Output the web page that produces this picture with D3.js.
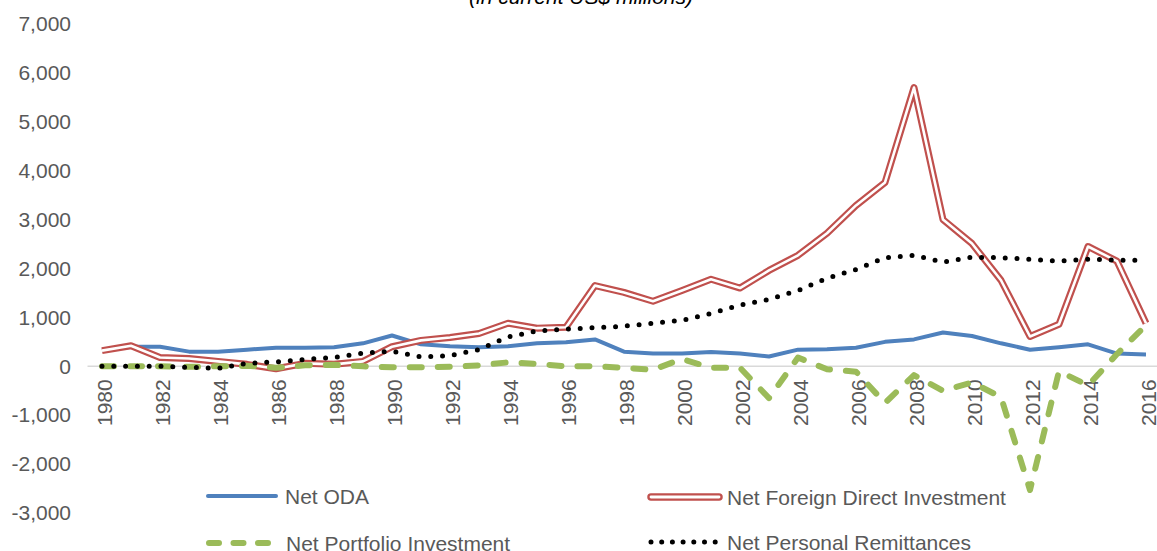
<!DOCTYPE html>
<html>
<head>
<meta charset="utf-8">
<script src="https://cdn.jsdelivr.net/npm/d3@7"></script>
<style>
  body { margin: 0; background: #fff; }
  svg { display: block; font-family: "Liberation Sans", Arial, sans-serif; }
</style>
</head>
<body>
<div id="chart"></div>
<script>
// values, US$ millions
const years = [1980, 1981, 1982, 1983, 1984, 1985, 1986, 1987, 1988, 1989,
  1990, 1991, 1992, 1993, 1994, 1995, 1996, 1997, 1998, 1999,
  2000, 2001, 2002, 2003, 2004, 2005, 2006, 2007, 2008, 2009,
  2010, 2011, 2012, 2013, 2014, 2015, 2016];
const netODA = [330, 400, 400, 300, 300, 340, 380, 380, 390, 470,
  630, 450, 410, 390, 410, 470, 490, 550, 300, 260,
  260, 290, 260, 200, 340, 350, 380, 500, 550, 690,
  620, 470, 340, 390, 450, 260, 240];
const netFDI = [320, 420, 180, 160, 100, 40, -50, 60, 40, 100,
  400, 530, 590, 670, 880, 780, 800, 1650, 1510, 1330,
  1550, 1780, 1600, 1960, 2270, 2720, 3290, 3760, 5700, 3000,
  2510, 1760, 610, 860, 2450, 2150, 880];
const netPortfolio = [0, 0, 0, -10, 0, 10, -30, 20, 30, 0,
  -20, -20, -10, 20, 80, 50, 0, 0, -30, -70,
  150, -30, -30, -650, 180, -60, -110, -750, -180, -500,
  -330, -630, -2530, -100, -390, 250, 840];
const netRemit = [0, 0, 0, -20, -40, 60, 90, 140, 180, 270,
  310, 190, 220, 340, 600, 720, 760, 790, 820, 880,
  940, 1080, 1250, 1370, 1550, 1800, 1980, 2220, 2270, 2130,
  2230, 2220, 2190, 2150, 2190, 2170, 2170];
const yTicks = [-3000, -2000, -1000, 0, 1000, 2000, 3000, 4000, 5000, 6000, 7000];
const xTicks = years.filter((y, i) => i % 2 === 0);

const w = 1157;
const h = 551;
const txt = "#595959";

const svg = d3.select("#chart").append("svg")
  .attr("width", w)
  .attr("height", h);

const x = d3.scalePoint()
  .domain(years)
  .range([87.5, 1160.5])
  .padding(0.5);
const y = d3.scaleLinear()
  .domain([-3000, 7000])
  .range([513, 24]);

// title (cut off at top in the original)
svg.append("text")
  .attr("x", 581)
  .attr("y", 4)
  .attr("text-anchor", "middle")
  .attr("font-size", 21)
  .attr("font-style", "italic")
  .attr("fill", "#000")
  .text("(in current US$ millions)");

// zero line
svg.append("line")
  .attr("x1", 87.5)
  .attr("x2", w)
  .attr("y1", y(0))
  .attr("y2", y(0))
  .attr("stroke", "#d9d9d9")
  .attr("stroke-width", 1.5);

// y axis
const fmt = d3.format(",");
const yAxis = d3.axisLeft(y)
  .tickValues(yTicks)
  .tickSize(0)
  .tickPadding(0)
  .tickFormat(d => fmt(d).replace("\u2212", "-"));
const gy = svg.append("g")
  .attr("transform", "translate(71,0)")
  .call(yAxis);
gy.select(".domain").remove();
gy.selectAll("text")
  .attr("font-size", 21)
  .attr("font-family", "Liberation Sans, Arial, sans-serif")
  .attr("fill", txt);

// x axis labels, rotated
const xAxis = d3.axisBottom(x)
  .tickValues(xTicks)
  .tickSize(0)
  .tickPadding(0);
const gx = svg.append("g")
  .attr("transform", `translate(2,${y(0)})`)
  .call(xAxis);
gx.select(".domain").remove();
gx.selectAll("text")
  .attr("font-size", 21)
  .attr("font-family", "Liberation Sans, Arial, sans-serif")
  .attr("fill", txt)
  .attr("text-anchor", "end")
  .attr("transform", "rotate(-90)")
  .attr("x", -13)
  .attr("y", 0)
  .attr("dy", "0.35em");

const line = d3.line()
  .x((d, i) => x(years[i]))
  .y(d => y(d));

// Net ODA
svg.append("path")
  .datum(netODA)
  .attr("d", line)
  .attr("fill", "none")
  .attr("stroke", "#4f81bd")
  .attr("stroke-width", 4)
  .attr("stroke-linejoin", "round");

// Net FDI - double line
svg.append("path")
  .datum(netFDI)
  .attr("d", line)
  .attr("fill", "none")
  .attr("stroke", "#c0504d")
  .attr("stroke-width", 7)
  .attr("stroke-linejoin", "round");
svg.append("path")
  .datum(netFDI)
  .attr("d", line)
  .attr("fill", "none")
  .attr("stroke", "#fff")
  .attr("stroke-width", 2.6)
  .attr("stroke-linejoin", "round");

// Net Portfolio - dashed
svg.append("path")
  .datum(netPortfolio)
  .attr("d", line)
  .attr("fill", "none")
  .attr("stroke", "#9bbb59")
  .attr("stroke-width", 6)
  .attr("stroke-dasharray", "12 16")
  .attr("stroke-linecap", "round")
  .attr("stroke-linejoin", "round");

// Net Remittances - dotted
svg.append("path")
  .datum(netRemit)
  .attr("d", line)
  .attr("fill", "none")
  .attr("stroke", "#000")
  .attr("stroke-width", 5)
  .attr("stroke-dasharray", "0 11.8")
  .attr("stroke-linecap", "round");

// legend
const legendItems = [
  { name: "Net ODA", lx: 208, ly: 496 },
  { name: "Net Foreign Direct Investment", lx: 651, ly: 497 },
  { name: "Net Portfolio Investment", lx: 209, ly: 543 },
  { name: "Net Personal Remittances", lx: 651, ly: 542 }
];

const lg = svg.selectAll(".legend")
  .data(legendItems)
  .enter()
  .append("g")
  .attr("class", "legend")
  .attr("transform", d => `translate(${d.lx},${d.ly})`);

lg.append("text")
  .attr("x", (d, i) => i % 2 === 0 ? 77 : 76)
  .attr("y", 0)
  .attr("dy", (d, i) => i < 2 ? "0.38em" : "0.36em")
  .attr("font-size", 21)
  .attr("fill", txt)
  .text(d => d.name);

// legend swatches
lg.filter((d, i) => i === 0).append("line")
  .attr("x1", 0).attr("x2", 68)
  .attr("stroke", "#4f81bd")
  .attr("stroke-width", 4)
  .attr("stroke-linecap", "round");

const fdiKey = lg.filter((d, i) => i === 1);
fdiKey.append("line")
  .attr("x1", 0).attr("x2", 68)
  .attr("stroke", "#c0504d")
  .attr("stroke-width", 7.5)
  .attr("stroke-linecap", "round");
fdiKey.append("line")
  .attr("x1", 0).attr("x2", 68)
  .attr("stroke", "#fff")
  .attr("stroke-width", 2.8)
  .attr("stroke-linecap", "round");

lg.filter((d, i) => i === 2).append("line")
  .attr("x1", 0).attr("x2", 66)
  .attr("stroke", "#9bbb59")
  .attr("stroke-width", 6)
  .attr("stroke-dasharray", "10 14.5")
  .attr("stroke-linecap", "round");

lg.filter((d, i) => i === 3).append("line")
  .attr("x1", 0).attr("x2", 65)
  .attr("stroke", "#000")
  .attr("stroke-width", 5)
  .attr("stroke-dasharray", "0 10.7")
  .attr("stroke-linecap", "round");
</script>
</body>
</html>
